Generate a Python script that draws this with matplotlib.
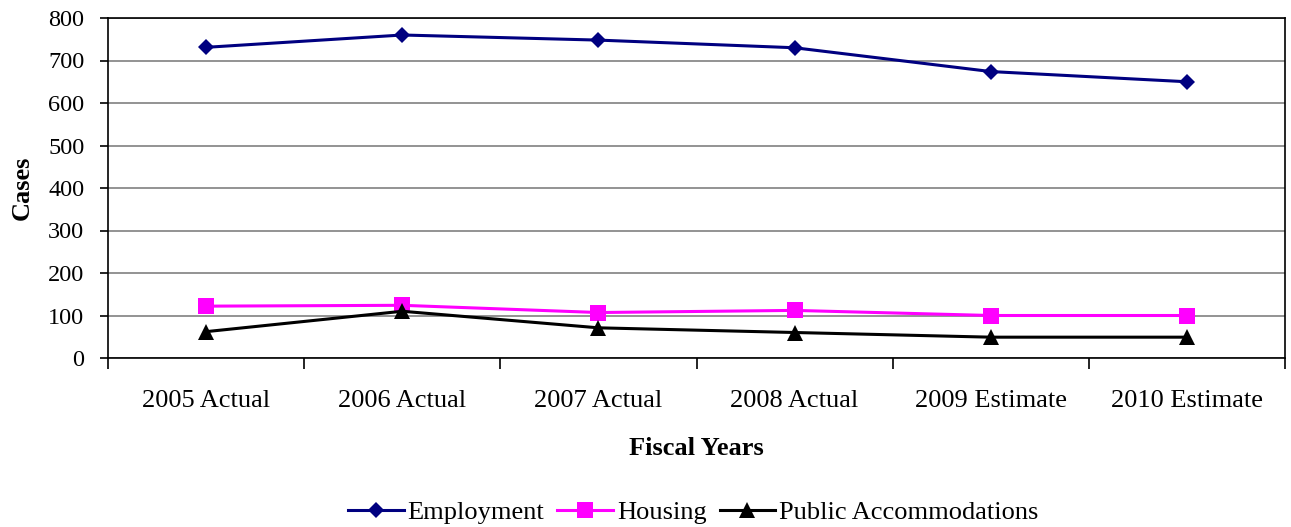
import matplotlib
matplotlib.use("Agg")
import matplotlib.pyplot as plt
import numpy as np

categories = ["2005 Actual", "2006 Actual", "2007 Actual", "2008 Actual", "2009 Estimate", "2010 Estimate"]
employment = [731, 760, 748, 730, 674, 650]
housing = [122, 124, 107, 112, 100, 100]
public_acc = [62, 110, 71, 60, 49, 49]

plt.rcParams['font.family'] = ['Liberation Serif', 'DejaVu Serif']

fig = plt.figure(figsize=(12.91, 5.27), dpi=100)
ax = fig.add_axes([108/1291, 1 - 358/527, (1285-108)/1291, (358-18)/527])

x = np.arange(len(categories))
ax.plot(x, employment, color='#000080', lw=2.2, marker='D', ms=8.5, mew=0, label='Employment')
ax.plot(x, housing, color='#FF00FF', lw=2.2, marker='s', ms=11, mew=0, label='Housing')
ax.plot(x, public_acc, color='#000000', lw=2.2, marker='^', ms=11, mew=0, label='Public Accommodations')

ax.set_xlim(-0.5, len(categories) - 0.5)
ax.set_ylim(0, 800)
ax.set_yticks(np.arange(0, 801, 100))
ax.yaxis.grid(True, color='#808080', lw=1.2)
ax.set_axisbelow(True)

ax.set_xticks(x)
ax.set_xticklabels(categories, fontsize=19)
ax.set_xticks(np.arange(-0.5, len(categories), 1), minor=True)
ax.tick_params(axis='x', which='major', length=0, pad=23)
ax.tick_params(axis='x', which='minor', length=8, width=1.2, direction='out')
ax.tick_params(axis='y', labelsize=17.5, length=6, width=1.2, direction='out', pad=11)

for s in ax.spines.values():
    s.set_color('black')
    s.set_linewidth(1.2)

ax.set_ylabel('Cases', fontsize=19, fontweight='bold', labelpad=10)
ax.set_xlabel('Fiscal Years', fontsize=19, fontweight='bold', labelpad=18)

fig.legend(loc='lower center', bbox_to_anchor=(0.537, -0.04), ncol=3, frameon=False,
           fontsize=19, handlelength=2.1, handletextpad=0.15, columnspacing=0.5)

fig.savefig('out.png', dpi=100)
